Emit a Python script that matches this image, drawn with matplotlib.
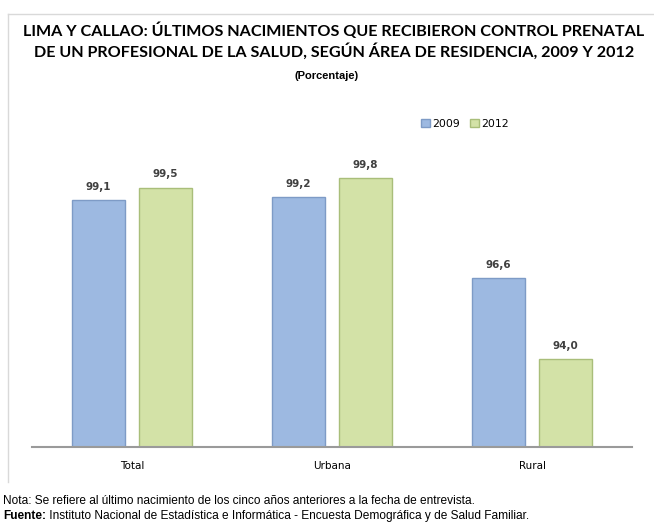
import matplotlib
matplotlib.use("Agg")
import matplotlib.pyplot as plt
from matplotlib.patches import Patch
from matplotlib.lines import Line2D
import numpy as np

# data
categories = ["Total", "Urbana", "Rural"]
years = ["2009", "2012"]
values_2009 = [99.1, 99.2, 96.6]
values_2012 = [99.5, 99.8, 94.0]
labels_2009 = ["99,1", "99,2", "96,6"]
labels_2012 = ["99,5", "99,8", "94,0"]

title = ("LIMA Y CALLAO: ÚLTIMOS NACIMIENTOS QUE RECIBIERON CONTROL PRENATAL\n"
         "DE UN PROFESIONAL DE LA SALUD, SEGÚN ÁREA DE RESIDENCIA, 2009 Y 2012")
subtitle = "(Porcentaje)"
nota = "Nota: Se refiere al último nacimiento de los cinco años anteriores a la fecha de entrevista."
fuente_bold = "Fuente:"
fuente = " Instituto Nacional de Estadística e Informática - Encuesta Demográfica y de Salud Familiar."

blue = "#9DB9E1"
blue_edge = "#7E9BC6"
green = "#D3E2A7"
green_edge = "#A9BE7A"
txt = "#404040"
y_floor = 91.2

W, H = 654, 525
fig = plt.figure(figsize=(W / 100, H / 100), dpi=100)
fig.patch.set_facecolor("white")

# light frame round the chart
fig.add_artist(Line2D([8 / W, 8 / W], [1 - 14 / H, 1 - 482 / H], color="#D9D9D9", lw=1))
fig.add_artist(Line2D([8 / W, 1], [1 - 14 / H, 1 - 14 / H], color="#D9D9D9", lw=1))

ax = fig.add_axes([32 / W, (H - 447) / H, 600 / W, (447 - 150) / H])

x = np.arange(len(categories))
w = 0.265
off = 0.1675
b1 = ax.bar(x - off, values_2009, w, color=blue, edgecolor=blue_edge, lw=1, label=years[0])
b2 = ax.bar(x + off, values_2012, w, color=green, edgecolor=green_edge, lw=1, label=years[1])

for xs, vals, labs in ((x - off, values_2009, labels_2009), (x + off, values_2012, labels_2012)):
    for xi, v, lab in zip(xs, vals, labs):
        ax.annotate(lab, (xi, v), xytext=(0, 6), textcoords="offset points",
                    ha="center", va="bottom", fontsize=7.5, fontweight="bold",
                    color=txt, family="DejaVu Sans")

ax.set_ylim(y_floor, 100.7)
ax.set_xlim(-0.5, 2.5)
ax.set_yticks([])
ax.set_xticks(x)
ax.set_xticklabels(categories, fontsize=7.5, color="black", family="DejaVu Sans")
ax.tick_params(axis="x", length=0, pad=10)
for s in ("top", "right", "left"):
    ax.spines[s].set_visible(False)
ax.spines["bottom"].set_color("#9A9A9A")
ax.spines["bottom"].set_linewidth(1.5)

fig.legend(handles=[Patch(facecolor=blue, edgecolor=blue_edge, label=years[0]),
                    Patch(facecolor=green, edgecolor=green_edge, label=years[1])],
           loc="center", bbox_to_anchor=(465 / W, 1 - 124 / H), ncol=2, frameon=False,
           handlelength=0.8, handleheight=0.8, handletextpad=0.2, columnspacing=1.0,
           prop={"family": "DejaVu Sans", "size": 7.8})

fig.text(334 / W, 1 - 41 / H, title, ha="center", va="center", fontsize=11.6,
         fontweight="bold", family="Lato", linespacing=1.3, color="black")
fig.text(327 / W, 1 - 76 / H, subtitle, ha="center", va="center", fontsize=8,
         fontweight="bold", family="Liberation Sans", color="black")

fig.text(3 / W, 1 - 501 / H, nota, ha="left", va="center", fontsize=8.6,
         family="Liberation Sans", color="black")
t = fig.text(3 / W, 1 - 516 / H, fuente_bold, ha="left", va="center", fontsize=8.6,
             fontweight="bold", family="Liberation Sans", color="black")
fig.canvas.draw()
bb = t.get_window_extent()
fig.text(bb.x1 / W, 1 - 516 / H, fuente, ha="left", va="center", fontsize=8.6,
         family="Liberation Sans", color="black")

fig.savefig("out.png", dpi=100, facecolor="white")
